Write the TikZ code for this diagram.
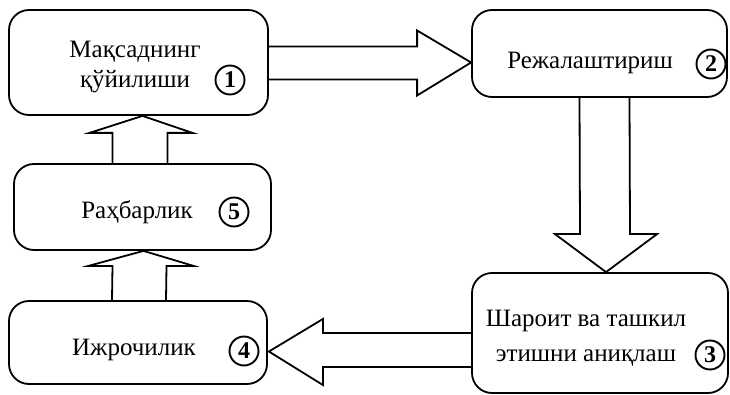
\documentclass[tikz,border=0pt]{standalone}
\usepackage{fontspec}
\setmainfont{Liberation Serif}
\usetikzlibrary{calc}

\tikzset{
    stagebox/.style={draw, line width=1.8pt, rounded corners=20pt},
    caption/.style={font=\fontsize{25}{30}\selectfont, align=center, inner sep=0pt},
    num/.style={draw, circle, line width=1.9pt, minimum size=29pt, inner sep=0pt, font=\fontsize{24}{24}\selectfont\bfseries},
    blockarrow/.style={draw, line width=1.8pt, line join=miter}
}

\begin{document}
\begin{tikzpicture}[x=1pt, y=-1pt]
                \useasboundingbox (0,0) rectangle (730,395);

                % Stages
                \node[stagebox, minimum width=259pt, minimum height=105pt] (goal) at (138.5,62.5) {};
                \node[stagebox, minimum width=255pt, minimum height=87pt] (plan) at (599.5,53.5) {};
                \node[stagebox, minimum width=256pt, minimum height=120pt] (means) at (600,333) {};
                \node[stagebox, minimum width=258pt, minimum height=83pt] (exec) at (138,342.5) {};
                \node[stagebox, minimum width=257pt, minimum height=86pt] (lead) at (142.5,207) {};

                % Captions
                \node[caption] (goal-t) at (135,67) {Мақсаднинг\\қўйилиши};
                \node[caption] (plan-t) at (590,63) {Режалаштириш};
                \node[caption, font=\fontsize{25}{35}\selectfont] (means-t) at (586,338) {Шароит ва ташкил\\этишни аниқлаш};
                \node[caption] (exec-t) at (134,350) {Ижрочилик};
                \node[caption] (lead-t) at (137,212) {Раҳбарлик};

                % Numbers
                \node[num] (n1) at (230,80) {1};
                \node[num] (n2) at (711,64) {2};
                \node[num] (n3) at (710,355) {3};
                \node[num] (n4) at (244,351) {4};
                \node[num] (n5) at (234,212) {5};

                % Block arrows
                \draw[blockarrow] ($(goal.east)+(0,-16)$) -- ($(plan.west |- goal.east)+(-54,-16)$) -- ++(0,-16)
                    -- (plan.west |- goal.east) -- ($(plan.west |- goal.east)+(-54,33)$) -- ++(0,-16) -- ($(goal.east)+(0,17)$);
                \draw[blockarrow] ($(plan.south)+(-20,0)$) -- ($(means.north)+(-20,-38)$) -- ++(-25,0)
                    -- ($(means.north)+(6,0)$) -- ($(means.north)+(57,-38)$) -- ++(-27,0) -- ($(plan.south)+(30,0)$);
                \draw[blockarrow] (means.west) -- ($(exec.east |- means.west)+(55,0)$) -- ++(0,-14)
                    -- ($(exec.east)+(1,9)$) -- ($(exec.east |- means.west)+(55,52)$) -- ++(0,-18) -- ($(means.west)+(0,34)$);
                \draw[blockarrow] ($(exec.north)+(-26,0)$) -- ($(lead.south)+(-30,15)$) -- ++(-24,0)
                    -- ($(lead.south)+(1,0)$) -- ($(lead.south)+(51,15)$) -- ++(-27,0) -- ($(exec.north)+(28,0)$);
                \draw[blockarrow] ($(lead.north)+(-30,0)$) -- ($(goal.south)+(-26,17)$) -- ++(-23,0)
                    -- ($(goal.south)+(4,0)$) -- ($(goal.south)+(54,17)$) -- ++(-25,0) -- ($(lead.north)+(25,0)$);
\end{tikzpicture}
\end{document}
